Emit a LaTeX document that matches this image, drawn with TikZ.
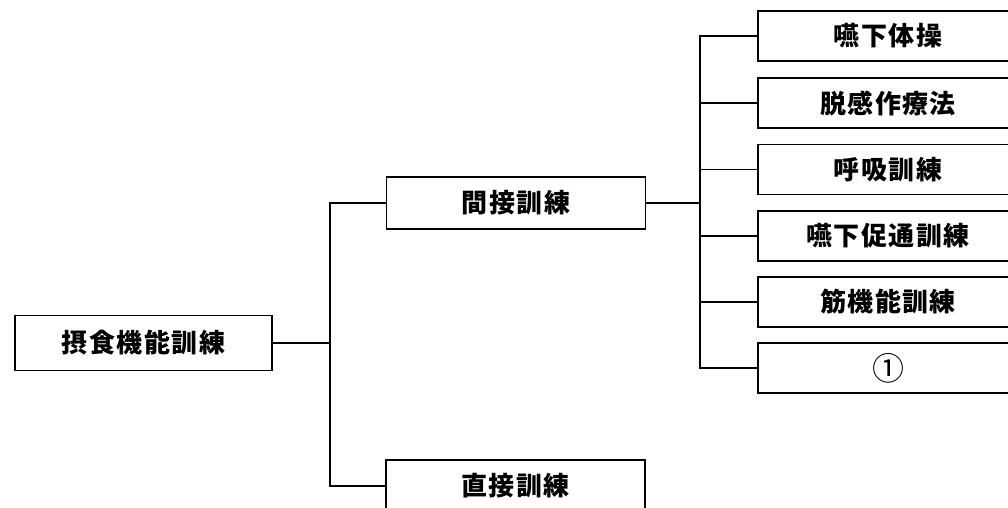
\documentclass[tikz,border=0pt]{standalone}
\usepackage{fontspec}
\newfontfamily\cjk{Noto Sans CJK JP}
\newcommand{\gp}{\hspace{1.5pt}}
\newcommand{\bt}{\cjk\bfseries\fontsize{26}{28}\selectfont}
\tikzset{
  box/.style={draw, line width=1.2pt, rectangle, inner sep=0pt},
  rbox/.style={box, minimum width=260pt, minimum height=50pt},
  lbox/.style={box, minimum width=259pt, minimum height=52pt},
  conn/.style={line width=1.2pt}
}
\begin{document}
\begin{tikzpicture}[x=1pt,y=-1pt]
\useasboundingbox (0,0) rectangle (1008,508);
\begin{scope}
\clip (0,0) rectangle (1008,508);
\node[lbox, minimum width=257pt, minimum height=55pt] (root) at (143.5,343) {\bt 摂\gp 食\gp 機\gp 能\gp 訓\gp 練};
\node[lbox] (ind) at (516,203) {\bt 間\gp 接\gp 訓\gp 練};
\node[lbox] (dir) at (515.5,486) {\bt 直\gp 接\gp 訓\gp 練};
\node[rbox] (r1) at (888,36) {\bt 嚥\gp 下\gp 体\gp 操};
\node[rbox] (r2) at (888,103) {\bt 脱\gp 感\gp 作\gp 療\gp 法};
\node[rbox] (r3) at (888,169.5) {\bt 呼\gp 吸\gp 訓\gp 練};
\node[rbox] (r4) at (888,236) {\bt 嚥\gp 下\gp 促\gp 通\gp 訓\gp 練};
\node[rbox] (r5) at (888,302) {\bt 筋\gp 機\gp 能\gp 訓\gp 練};
\node[rbox] (r6) at (888,368) {\cjk\fontsize{32}{34}\selectfont ①};
\coordinate (b1) at (330,343);
\coordinate (b2) at (700,203);
\draw[conn] (root.east) -- (b1);
\draw[conn] (ind.west) -| (b1) |- (dir.west);
\draw[conn] (ind.east) -- (b2);
\foreach \n in {r1,r2,r3,r4,r5,r6} \draw[conn] (\n.west) -| (b2);
\end{scope}
\end{tikzpicture}
\end{document}
